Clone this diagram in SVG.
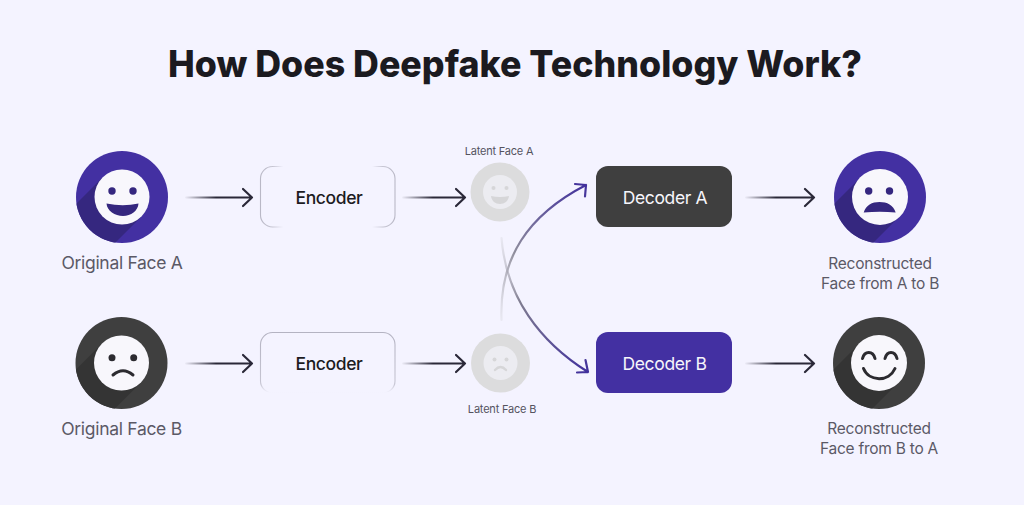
<svg xmlns="http://www.w3.org/2000/svg" width="1024" height="505" viewBox="0 0 1024 505">
<style>
text{font-family:Inter,"Liberation Sans",sans-serif;text-anchor:middle}
.title{font-size:37px;font-weight:800;fill:#1b1a20}
.lab{font-size:17.500px;fill:#5b5966;letter-spacing:-.3px}
.lab2{font-size:15.500px;fill:#5b5966;letter-spacing:-.25px}
.small{font-size:11px;fill:#55535f;letter-spacing:-.2px}
.enc{font-size:17.500px;font-weight:500;fill:#1c1b22;letter-spacing:-.4px}
.dec{font-size:17.500px;fill:#f6f5fb;letter-spacing:-.35px}
.arrow{fill:none;stroke:url(#fade);stroke-width:2.200;stroke-linecap:round;stroke-linejoin:round}
.curve{fill:none;stroke-width:2.200;stroke-linecap:round;stroke-linejoin:round}
.white{fill:#f8f7fc}
.pur{fill:#4330a2}.purs{fill:#35277f}
.drk{fill:#3f3f3f}.drks{fill:#343434}
.ink{fill:#35277f}.ink2{fill:#2c2b30}
.lin{fill:none;stroke:#2c2b30;stroke-width:3;stroke-linecap:round}
.lat{fill:#dcdcdd}.lati{fill:#ececf1}.latf{fill:#d6d6d8}
.latl{fill:none;stroke:#d6d6d8;stroke-width:2.400;stroke-linecap:round}
</style>
<defs>
<linearGradient id="fade" gradientUnits="userSpaceOnUse" x1="-2" y1="0" x2="30" y2="0">
<stop offset="0" stop-color="#2a2838" stop-opacity="0"/><stop offset="1" stop-color="#2a2838"/>
</linearGradient>
<linearGradient id="up" gradientUnits="userSpaceOnUse" x1="501" y1="320" x2="586" y2="185">
<stop offset="0" stop-color="#cfcfd4" stop-opacity=".3"/><stop offset=".4" stop-color="#8f8d9c"/><stop offset="1" stop-color="#41309c"/>
</linearGradient>
<linearGradient id="down" gradientUnits="userSpaceOnUse" x1="501" y1="238" x2="588" y2="372">
<stop offset="0" stop-color="#cfcfd4" stop-opacity=".3"/><stop offset=".4" stop-color="#7f7c90"/><stop offset="1" stop-color="#41309c"/>
</linearGradient>
<linearGradient id="edgeA" x1="0" y1="0" x2="1" y2="0">
<stop offset="0" stop-color="#b9b8c6"/><stop offset=".09" stop-color="#c6c5d2"/><stop offset=".17" stop-color="#c6c5d2" stop-opacity="0"/><stop offset=".83" stop-color="#c6c5d2" stop-opacity="0"/><stop offset=".91" stop-color="#c6c5d2"/><stop offset="1" stop-color="#b9b8c6"/>
</linearGradient>
<linearGradient id="edgeB" x1="0" y1="0" x2="0" y2="1">
<stop offset="0" stop-color="#b4b3c2"/><stop offset=".85" stop-color="#c6c5d2"/><stop offset=".995" stop-color="#c6c5d2" stop-opacity="0"/>
</linearGradient>
<clipPath id="disc"><circle r="46"/></clipPath>
</defs>
<rect width="1024" height="505" fill="#f4f3ff"/>
<text class="title" x="515" y="77" textLength="694" lengthAdjust="spacingAndGlyphs">How Does Deepfake Technology Work?</text>

<g id="connectors">
<path class="arrow" transform="translate(186,197.500)" d="M0 0H66M57 -8.500L66 0L57 8.500"/>
<path class="arrow" transform="translate(186,363.500)" d="M0 0H66M57 -8.500L66 0L57 8.500"/>
<path class="arrow" transform="translate(403,197.500)" d="M0 0H62M53 -8.500L62 0L53 8.500"/>
<path class="arrow" transform="translate(403,363.500)" d="M0 0H62M53 -8.500L62 0L53 8.500"/>
<path class="arrow" transform="translate(746,197.500)" d="M0 0H68M59 -8.500L68 0L59 8.500"/>
<path class="arrow" transform="translate(746,363.500)" d="M0 0H68M59 -8.500L68 0L59 8.500"/>
<path class="curve" stroke="url(#up)" d="M501.500 320C499 258 528 215 586 185M575 184L586 185L585 196.500"/>
<path class="curve" stroke="url(#down)" d="M501.500 238C506 297 540 342 588 372M577 372.500L588 372L585.500 360"/>
</g>

<g id="face-original-a" transform="translate(122,197)">
<circle class="pur" r="46"/>
<path class="purs" clip-path="url(#disc)" d="M-19.500 -19.500L-80 41L-41 80L19.500 19.500Z"/>
<circle class="white" r="27.500"/>
<circle class="ink" cx="-10" cy="-6" r="3.700"/><circle class="ink" cx="11" cy="-6" r="3.700"/>
<path class="ink" d="M-15.500 6.500Q1 10 16.500 6.500C16 14 9 19 1 19C-7 19 -15 14 -15.500 6.500Z"/>
<text class="lab" y="72">Original Face A</text>
</g>
<g id="face-original-b" transform="translate(121.500,363)">
<circle class="drk" r="46"/>
<path class="drks" clip-path="url(#disc)" d="M-19.500 -19.500L-80 41L-41 80L19.500 19.500Z"/>
<circle class="white" r="27.500"/>
<circle class="ink2" cx="-9.500" cy="-5.300" r="3.500"/><circle class="ink2" cx="12.200" cy="-5.300" r="3.500"/>
<path class="lin" d="M-8.500 12Q1.500 3.500 11.500 12"/>
<text class="lab" y="72">Original Face B</text>
</g>

<g id="encoder-a">
<rect x="260.500" y="166.500" width="134.500" height="60.500" rx="12" fill="none" stroke="url(#edgeA)" stroke-width="1.100"/>
<text class="enc" x="329" y="204">Encoder</text>
</g>
<g id="encoder-b">
<rect x="260.500" y="332.500" width="134.500" height="60.500" rx="12" fill="none" stroke="url(#edgeB)" stroke-width="1.100"/>
<text class="enc" x="329" y="370">Encoder</text>
</g>

<g id="latent-a" transform="translate(500,192)">
<circle class="lat" r="29.500"/><circle class="lati" r="17"/>
<circle class="latf" cx="-6.500" cy="-4" r="2"/><circle class="latf" cx="6.500" cy="-4" r="2"/>
<path class="latf" d="M-9 4Q0 6 9 4C8.500 9 4.500 12 0 12C-4.500 12 -8.500 9 -9 4Z"/>
<text class="small" x="-1" y="-37">Latent Face A</text>
</g>
<g id="latent-b" transform="translate(500.500,363)">
<circle class="lat" r="29.500"/><circle class="lati" r="17"/>
<circle class="latf" cx="-6" cy="-3.500" r="2"/><circle class="latf" cx="6" cy="-3.500" r="2"/>
<path class="latl" d="M-5.500 7Q0 1 5.500 7"/>
<text class="small" x="1.500" y="50">Latent Face B</text>
</g>

<g id="decoder-a">
<rect x="596" y="166" width="136" height="61" rx="12" fill="#3f3f3f"/>
<text class="dec" x="665" y="204">Decoder A</text>
</g>
<g id="decoder-b">
<rect x="596" y="332" width="136" height="61" rx="12" fill="#4330a2"/>
<text class="dec" x="664.500" y="370">Decoder B</text>
</g>

<g id="face-reconstructed-a" transform="translate(880,197)">
<circle class="pur" r="46"/>
<path class="purs" clip-path="url(#disc)" d="M-19.500 -19.500L-80 41L-41 80L19.500 19.500Z"/>
<circle class="white" r="28"/>
<circle class="ink" cx="-11.300" cy="-6" r="3.700"/><circle class="ink" cx="9.500" cy="-6" r="3.700"/>
<path class="ink" d="M-16.300 15.500C-14 8 -8 5 -0.500 5C7 5 13.500 8 15.700 15.500Q0 14 -16.300 15.500Z"/>
<text class="lab2" y="72">Reconstructed</text>
<text class="lab2" y="92">Face from A to B</text>
</g>
<g id="face-reconstructed-b" transform="translate(879,363)">
<circle class="drk" r="46"/>
<path class="drks" clip-path="url(#disc)" d="M-19.500 -19.500L-80 41L-41 80L19.500 19.500Z"/>
<circle class="white" r="28"/>
<path class="lin" d="M-16.500 -4.500C-14.500 -12.500 -6 -12.500 -4 -4.500M6 -4.500C8 -12.500 16 -12.500 18 -4.500M-15.500 5.500C-10 19 10 19 16 5.500"/>
<text class="lab2" y="71">Reconstructed</text>
<text class="lab2" y="91">Face from B to A</text>
</g>
</svg>
